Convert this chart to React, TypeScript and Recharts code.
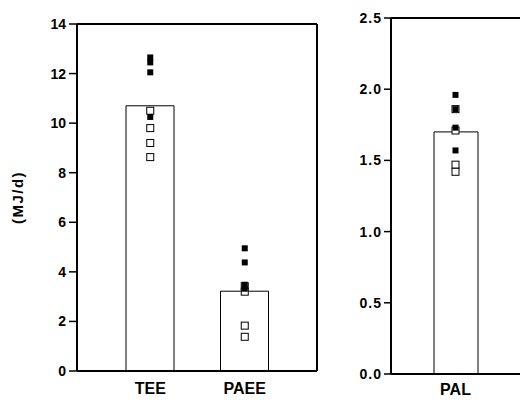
import {
  ComposedChart,
  Bar,
  Scatter,
  XAxis,
  YAxis,
} from "recharts";

// left panel: energy expenditure (MJ/d)
const energyCategories = ["TEE", "PAEE"];
const energyMeans = [10.7, 3.22];
const energyFilled = [
  [12.65, 12.45, 12.05, 10.25],
  [4.95, 4.38, 3.48, 3.32],
];
const energyOpen = [
  [10.5, 9.8, 9.2, 8.63],
  [3.42, 3.2, 1.83, 1.38],
];
const energyTicks = [0, 2, 4, 6, 8, 10, 12, 14];

// right panel: physical activity level
const palCategories = ["PAL"];
const palMeans = [1.7];
const palFilled = [[1.96, 1.86, 1.73, 1.57]];
const palOpen = [[1.86, 1.71, 1.47, 1.42]];
const palTicks = [0, 0.5, 1.0, 1.5, 2.0, 2.5];

const FONT = "'Liberation Sans', Arial, sans-serif";

function buildRows(cats: string[], means: number[], filled: number[][], open: number[][]) {
  return cats.map((name, i) => {
    const row: Record<string, any> = { name, mean: means[i] };
    filled[i].forEach((v, j) => (row["f" + j] = v));
    open[i].forEach((v, j) => (row["o" + j] = v));
    return row;
  });
}

const FilledSquare = (props: any) => {
  const { cx, cy } = props;
  if (cx == null || cy == null) return null;
  return <rect x={cx - 3} y={cy - 3} width={6} height={6} fill="#000" />;
};

const OpenSquare = (props: any) => {
  const { cx, cy } = props;
  if (cx == null || cy == null) return null;
  return (
    <rect x={cx - 3.5} y={cy - 3.5} width={7} height={7} fill="#fff" stroke="#000" strokeWidth={1} />
  );
};

function points(n: number) {
  const out: any[] = [];
  for (let j = 0; j < n; j++) {
    out.push(
      <Scatter key={"o" + j} dataKey={"o" + j} shape={<OpenSquare />} isAnimationActive={false} />
    );
  }
  for (let j = 0; j < n; j++) {
    out.push(
      <Scatter key={"f" + j} dataKey={"f" + j} shape={<FilledSquare />} isAnimationActive={false} />
    );
  }
  return out;
}

const tickStyle = { fill: "#000", fontSize: 14, fontWeight: 700, fontFamily: FONT };
const catStyle = { fill: "#000", fontSize: 16, fontWeight: 700, fontFamily: FONT };
const frame = { stroke: "#000", strokeWidth: 2 };

export default function App() {
  const energyData = buildRows(energyCategories, energyMeans, energyFilled, energyOpen);
  const palData = buildRows(palCategories, palMeans, palFilled, palOpen);

  return (
    <div
      style={{
        position: "absolute",
        left: 0,
        top: 0,
        width: 520,
        height: 405,
        overflow: "hidden",
        background: "#fff",
      }}
    >
      <div style={{ position: "absolute", left: 0, top: 0 }}>
        <ComposedChart
          width={322}
          height={405}
          data={energyData}
          margin={{ top: 22, right: 3, bottom: 0, left: 0 }}
        >
          <XAxis
            dataKey="name"
            height={34}
            padding={{ left: 26, right: 25 }}
            tickLine={false}
            tickSize={0}
            tickMargin={12}
            tick={catStyle}
            axisLine={frame}
          />
          <XAxis
            xAxisId="top"
            dataKey="name"
            orientation="top"
            height={2}
            tickSize={0}
            tick={false}
            tickLine={false}
            axisLine={frame}
          />
          <YAxis
            width={77}
            domain={[0, 14]}
            ticks={energyTicks}
            tickSize={8}
            tickMargin={3}
            tick={tickStyle}
            tickLine={{ stroke: "#000", strokeWidth: 1.5 }}
            axisLine={frame}
            label={{
              value: "(MJ/d)",
              angle: -90,
              position: "insideLeft",
              offset: 18,
              style: { textAnchor: "middle", fill: "#000", fontSize: 15, fontWeight: 700, fontFamily: FONT, letterSpacing: 1.5 },
            }}
          />
          <YAxis
            yAxisId="right"
            orientation="right"
            width={2}
            tickSize={0}
            tick={false}
            tickLine={false}
            axisLine={frame}
          />
          <Bar dataKey="mean" barSize={48} fill="#fff" stroke="#000" strokeWidth={1} isAnimationActive={false} />
          {points(4)}
        </ComposedChart>
      </div>

      <div style={{ position: "absolute", left: 330, top: 0 }}>
        <ComposedChart
          width={210}
          height={405}
          data={palData}
          margin={{ top: 16, right: 0, bottom: 0, left: 0 }}
        >
          <XAxis
            dataKey="name"
            height={31}
            padding={{ left: 0, right: 20 }}
            tickLine={false}
            tickSize={0}
            tickMargin={10}
            tick={catStyle}
            axisLine={frame}
          />
          <XAxis
            xAxisId="top"
            dataKey="name"
            orientation="top"
            height={2}
            tickSize={0}
            tick={false}
            tickLine={false}
            axisLine={frame}
          />
          <YAxis
            width={61}
            domain={[0, 2.5]}
            ticks={palTicks}
            tickSize={7}
            tickMargin={2}
            tickFormatter={(v: number) => v.toFixed(1)}
            tick={{ ...tickStyle, letterSpacing: 1 }}
            tickLine={{ stroke: "#000", strokeWidth: 1.5 }}
            axisLine={frame}
          />
          <Bar dataKey="mean" barSize={44} fill="#fff" stroke="#000" strokeWidth={1} isAnimationActive={false} />
          {points(4)}
        </ComposedChart>
      </div>
    </div>
  );
}
